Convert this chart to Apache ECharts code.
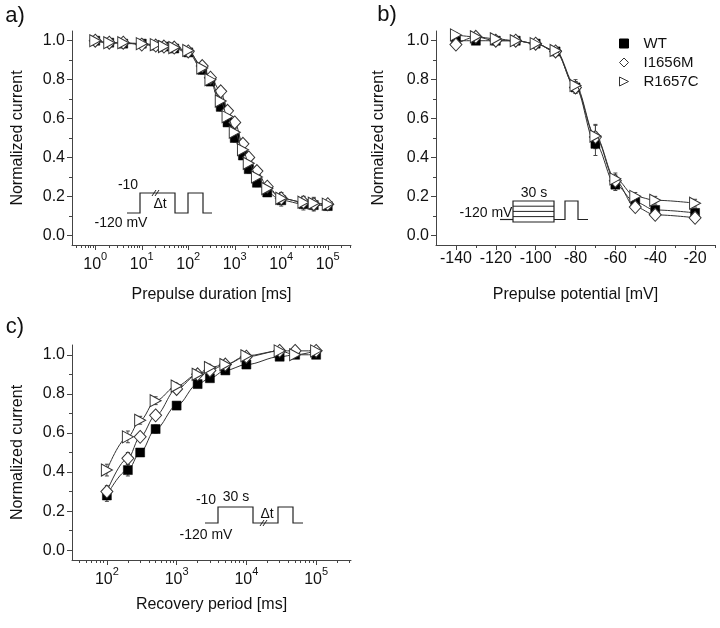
<!DOCTYPE html>
<html><head><meta charset="utf-8">
<script src="https://cdn.jsdelivr.net/npm/echarts@6/dist/echarts.min.js"></script>
<style>html,body{margin:0;padding:0;background:#fff}#c{width:720px;height:628px}</style>
</head><body><div id="c"></div>
<script>
// ---------- data ----------
const seriesNames = ['WT', 'I1656M', 'R1657C'];

// panel a: prepulse duration (ms)
const durA = [1, 2, 4, 10, 20, 30, 50, 100, 200, 300, 500, 700, 1000, 1500, 2000, 3000, 5000, 10000, 30000, 50000, 100000];
const wtA  = [1.00, 0.99, 0.985, 0.985, 0.975, 0.97, 0.96, 0.94, 0.85, 0.79, 0.66, 0.58, 0.50, 0.41, 0.34, 0.27, 0.22, 0.18, 0.16, 0.155, 0.15];
const imA  = [1.00, 0.99, 0.99, 0.98, 0.975, 0.97, 0.965, 0.945, 0.87, 0.81, 0.74, 0.64, 0.58, 0.47, 0.40, 0.33, 0.25, 0.19, 0.17, 0.16, 0.16];
const rcA  = [1.00, 0.99, 0.99, 0.985, 0.98, 0.97, 0.965, 0.95, 0.86, 0.80, 0.69, 0.61, 0.53, 0.44, 0.37, 0.30, 0.24, 0.19, 0.17, 0.165, 0.16];
const errA = [0.01, 0.01, 0.01, 0.01, 0.01, 0.01, 0.01, 0.01, 0.02, 0.02, 0.02, 0.02, 0.02, 0.02, 0.02, 0.02, 0.02, 0.03, 0.03, 0.03, 0.02];

// panel b: prepulse potential (mV)
const volB = [-140, -130, -120, -110, -100, -90, -80, -70, -60, -50, -40, -20];
const wtB  = [1.00, 1.00, 1.00, 1.00, 0.985, 0.945, 0.76, 0.47, 0.26, 0.17, 0.13, 0.115];
const imB  = [0.98, 1.02, 1.00, 1.00, 0.985, 0.945, 0.76, 0.505, 0.28, 0.145, 0.105, 0.09];
const rcB  = [1.03, 1.02, 1.01, 1.00, 0.985, 0.95, 0.77, 0.51, 0.29, 0.20, 0.18, 0.165];
const errB = [0.01, 0.01, 0.01, 0.01, 0.01, 0.01, 0.03, 0.06, 0.03, 0.02, 0.02, 0.02];

// panel c: recovery period (ms)
const perC = [100, 200, 300, 500, 1000, 2000, 3000, 5000, 10000, 30000, 50000, 100000];
const wtC  = [0.28, 0.41, 0.50, 0.62, 0.74, 0.85, 0.88, 0.92, 0.95, 0.99, 1.00, 1.00];
const imC  = [0.30, 0.47, 0.58, 0.69, 0.825, 0.90, 0.92, 0.95, 0.99, 1.02, 1.02, 1.02];
const rcC  = [0.41, 0.58, 0.665, 0.765, 0.84, 0.90, 0.935, 0.95, 0.995, 1.02, 1.00, 1.02];
const errC = [0.03, 0.03, 0.02, 0.02, 0.01, 0.01, 0.01, 0.01, 0.01, 0.01, 0.01, 0.01];

// tick labels
const yMajor = [0, 0.2, 0.4, 0.6, 0.8, 1.0];
const yMinor = [0.1, 0.3, 0.5, 0.7, 0.9];
const decadesA = [0, 1, 2, 3, 4, 5];
const decadesC = [2, 3, 4, 5];
const mvMajor = [-140, -120, -100, -80, -60, -40, -20];
const mvMinor = [-130, -110, -90, -70, -50, -30, -10];

// ---------- helpers ----------
const FONT = '"Liberation Sans", Arial, Helvetica, sans-serif';
const AX = '#444';
function logMinor(lo, hi) {
  const out = [];
  for (let n = Math.floor(lo) - 1; n <= Math.ceil(hi); n++)
    for (let k = 2; k <= 9; k++) { const v = n + Math.log10(k); if (v > lo && v < hi) out.push(v); }
  return out;
}
const lg = t => Math.log10(t);
const rich = { b: { fontSize: 16, fontFamily: FONT, color: '#111', lineHeight: 22, verticalAlign: 'bottom' },
               s: { fontSize: 11, fontFamily: FONT, color: '#111', lineHeight: 11, verticalAlign: 'top' } };
const logFmt = v => '{b|10}{s|' + Math.round(v) + '}';

function xPair(gi, min, max, major, minor, fmt, name, nameGap) {
  return [{
    type: 'value', gridIndex: gi, min, max, position: 'bottom',
    axisLine: { show: true, onZero: false, lineStyle: { color: AX, width: 1 } },
    axisTick: { show: true, customValues: major, length: 5, lineStyle: { color: AX } },
    axisLabel: { customValues: major, formatter: fmt, margin: 6, color: '#111', fontSize: 16, fontFamily: FONT, rich },
    splitLine: { show: false },
    name, nameLocation: 'middle', nameGap,
    nameTextStyle: { fontSize: 16, fontFamily: FONT, color: '#111' }
  }, {
    type: 'value', gridIndex: gi, min, max, position: 'bottom',
    axisLine: { show: false, onZero: false },
    axisTick: { show: true, customValues: minor, length: 3, lineStyle: { color: AX } },
    axisLabel: { show: false }, splitLine: { show: false }
  }];
}
function yPair(gi, nameGap) {
  return [{
    type: 'value', gridIndex: gi, min: -0.05, max: 1.05, position: 'left',
    axisLine: { show: true, onZero: false, lineStyle: { color: AX, width: 1 } },
    axisTick: { show: true, customValues: yMajor, length: 5, lineStyle: { color: AX } },
    axisLabel: { customValues: yMajor, formatter: v => v.toFixed(1), margin: 7, color: '#111', fontSize: 16, fontFamily: FONT },
    splitLine: { show: false },
    name: 'Normalized current', nameLocation: 'middle', nameGap,
    nameTextStyle: { fontSize: 16, fontFamily: FONT, color: '#111' }
  }, {
    type: 'value', gridIndex: gi, min: -0.05, max: 1.05, position: 'left',
    axisLine: { show: false, onZero: false },
    axisTick: { show: true, customValues: yMinor, length: 3, lineStyle: { color: AX } },
    axisLabel: { show: false }, splitLine: { show: false }
  }];
}

const triPath = 'path://M0,0L10,5L0,10Z';
const styles = [
  { symbol: 'rect', symbolSize: 9, itemStyle: { color: '#000', borderColor: '#000', borderWidth: 0.5 } },
  { symbol: 'diamond', symbolSize: [12, 13], itemStyle: { color: '#fff', borderColor: '#333', borderWidth: 1 } },
  { symbol: triPath, symbolSize: [11, 12], itemStyle: { color: '#fff', borderColor: '#333', borderWidth: 1 } }
];

function panelSeries(p, xs, sets, err) {
  const out = [];
  const ebData = [];
  sets.forEach((vals, si) => {
    out.push(Object.assign({
      type: 'line', name: seriesNames[si], xAxisIndex: 2 * p, yAxisIndex: 2 * p,
      data: xs.map((x, i) => [x, vals[i]]),
      smooth: 0.35, smoothMonotone: 'x', showAllSymbol: true,
      lineStyle: { color: '#333', width: 1 }, z: 3 + si, animation: false
    }, styles[si]));
    xs.forEach((x, i) => ebData.push([x, vals[i], err[i]]));
  });
  out.push({
    type: 'custom', name: 'err' + p, xAxisIndex: 2 * p, yAxisIndex: 2 * p, clip: false, z: 2,
    data: ebData, animation: false,
    renderItem: (params, api) => {
      const x = api.value(0), y = api.value(1), e = api.value(2);
      const a = api.coord([x, y - e]), b = api.coord([x, y + e]);
      const st = { stroke: '#444', lineWidth: 1 };
      return { type: 'group', children: [
        { type: 'line', shape: { x1: a[0], y1: a[1], x2: b[0], y2: b[1] }, style: st },
        { type: 'line', shape: { x1: a[0] - 2, y1: a[1], x2: a[0] + 2, y2: a[1] }, style: st },
        { type: 'line', shape: { x1: b[0] - 2, y1: b[1], x2: b[0] + 2, y2: b[1] }, style: st }
      ] };
    }
  });
  return out;
}

// ---------- insets & labels (schematics) ----------
const LS = { stroke: '#222', lineWidth: 1.2, fill: null };
function pl(points) { return { type: 'polyline', shape: { points }, style: LS, silent: true }; }
function ln(x1, y1, x2, y2) { return { type: 'line', shape: { x1, y1, x2, y2 }, style: { stroke: '#222', lineWidth: 1 }, silent: true }; }
function tx(text, x, y, size, align) {
  return { type: 'text', x, y, silent: true,
    style: { text, font: size + 'px ' + FONT, fill: '#111', align: align || 'center', verticalAlign: 'middle' } };
}
const graphics = [
  tx('a)', 15, 16, 22), tx('b)', 387, 15, 22), tx('c)', 15, 327, 22),
  // inset a
  pl([[127, 213], [140, 213], [140, 193], [175, 193], [175, 213], [188, 213], [188, 193], [203, 193], [203, 213], [212, 213]]),
  ln(152, 196, 156, 190), ln(155, 196, 159, 190),
  tx('-10', 128, 185, 14), tx('\u0394t', 160, 204, 14), tx('-120 mV', 121, 223, 14),
  // inset b
  pl([[500, 219.5], [513, 219.5]]),
  { type: 'rect', shape: { x: 513, y: 201, width: 41, height: 21 }, style: LS, silent: true },
  ln(513, 206.2, 554, 206.2), ln(513, 211.4, 554, 211.4), ln(513, 216.6, 554, 216.6),
  pl([[554, 219.5], [565, 219.5], [565, 201], [578, 201], [578, 219.5], [588, 219.5]]),
  tx('30 s', 534, 193, 14), tx('-120 mV', 486, 213, 14),
  // inset c
  pl([[205, 523], [218, 523], [218, 507], [253, 507], [253, 523], [278, 523], [278, 507], [293, 507], [293, 523], [303, 523]]),
  ln(260, 526, 264, 520), ln(263, 526, 267, 520),
  tx('-10', 206, 500, 14), tx('30 s', 236, 497, 14), tx('\u0394t', 267, 514, 14), tx('-120 mV', 206, 535, 14)
];

// ---------- chart ----------
const chart = echarts.init(document.getElementById('c'), null, { renderer: 'canvas' });
const xAxis = [].concat(
  xPair(0, -0.5, 5.5, decadesA, logMinor(-0.5, 5.5), logFmt, 'Prepulse duration [ms]', 42),
  xPair(1, -150, -10, mvMajor, mvMinor, v => String(v), 'Prepulse potential [mV]', 42),
  xPair(2, 1.5, 5.5, decadesC, logMinor(1.5, 5.5), logFmt, 'Recovery period [ms]', 37)
);
const yAxis = [].concat(yPair(0, 46), yPair(1, 49), yPair(2, 46));
const series = [].concat(
  panelSeries(0, durA.map(lg), [wtA, imA, rcA], errA),
  panelSeries(1, volB, [wtB, imB, rcB], errB),
  panelSeries(2, perC.map(lg), [wtC, imC, rcC], errC)
);
chart.setOption({
  animation: false,
  backgroundColor: '#fff',
  textStyle: { fontFamily: FONT },
  grid: [
    { left: 72, top: 31, width: 279, height: 214, containLabel: false, outerBoundsMode: 'none' },
    { left: 436, top: 31, width: 279, height: 214, containLabel: false, outerBoundsMode: 'none' },
    { left: 72, top: 345, width: 279, height: 215, containLabel: false, outerBoundsMode: 'none' }
  ],
  legend: {
    left: 619, top: 36, padding: 0, orient: 'vertical', itemWidth: 9, itemHeight: 9, itemGap: 4,
    selectedMode: false,
    itemStyle: { borderWidth: 1 },
    textStyle: { fontSize: 15, fontFamily: FONT, color: '#111', lineHeight: 15, padding: [0, 0, 0, 10] },
    data: [{ name: 'WT', icon: 'rect' }, { name: 'I1656M', icon: 'diamond' }, { name: 'R1657C', icon: triPath }]
  },
  xAxis, yAxis, series,
  graphic: graphics
});
</script></body></html>
